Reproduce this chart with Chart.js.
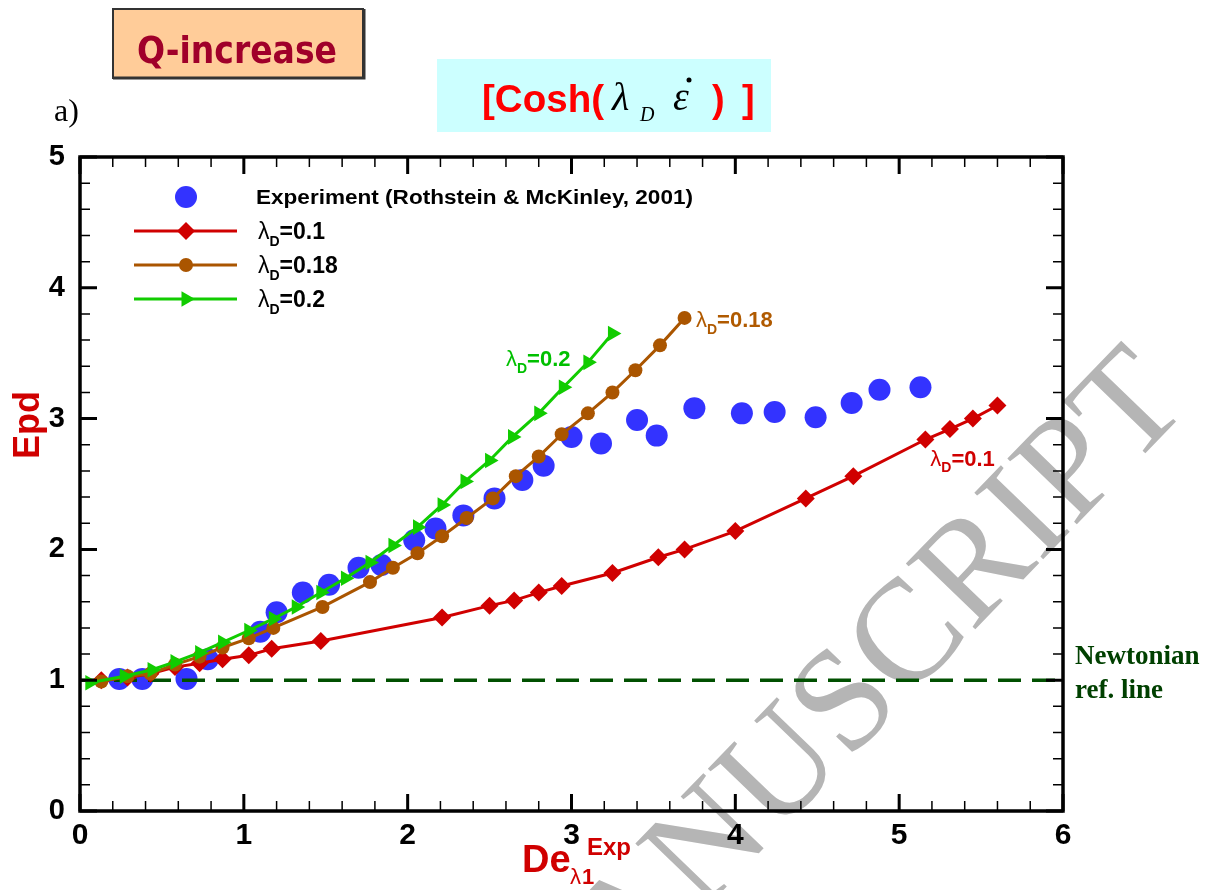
<!DOCTYPE html>
<html>
<head>
<meta charset="utf-8">
<script src="https://cdn.jsdelivr.net/npm/chart.js@4.4.0/dist/chart.umd.min.js"></script>
<style>
  html, body { margin: 0; padding: 0; background: #fff; }
  #wrap { width: 1225px; height: 890px; }
</style>
</head>
<body>
<div id="wrap"><canvas id="chart" width="1225" height="890"></canvas></div>
<script>
// experiment (Rothstein & McKinley, 2001)
const expX = [0.24, 0.38, 0.65, 0.78, 1.10, 1.20, 1.36, 1.52, 1.70, 1.84, 2.04, 2.17, 2.34, 2.53,
              2.70, 2.83, 3.00, 3.18, 3.40, 3.52, 3.75, 4.04, 4.24, 4.49, 4.71, 4.88, 5.13];
const expY = [1.01, 1.01, 1.01, 1.16, 1.37, 1.52, 1.67, 1.73, 1.86, 1.88, 2.07, 2.16, 2.26, 2.39,
              2.53, 2.64, 2.86, 2.81, 2.99, 2.87, 3.08, 3.04, 3.05, 3.01, 3.12, 3.22, 3.24];

// lambda_D = 0.1
const l01X = [0.13, 0.29, 0.43, 0.58, 0.73, 0.87, 1.03, 1.17, 1.47, 2.21, 2.50, 2.65, 2.80, 2.94,
              3.25, 3.53, 3.69, 4.00, 4.43, 4.72, 5.16, 5.31, 5.45, 5.60];
const l01Y = [1.00, 1.02, 1.05, 1.10, 1.13, 1.16, 1.19, 1.24, 1.30, 1.48, 1.57, 1.61, 1.67, 1.72,
              1.82, 1.94, 2.00, 2.14, 2.39, 2.56, 2.84, 2.92, 3.00, 3.10];

// lambda_D = 0.18
const l018X = [0.13, 0.29, 0.43, 0.58, 0.73, 0.87, 1.03, 1.18, 1.48, 1.77, 1.91, 2.06, 2.21, 2.36,
               2.52, 2.66, 2.80, 2.94, 3.10, 3.25, 3.39, 3.54, 3.69];
const l018Y = [0.99, 1.03, 1.05, 1.12, 1.18, 1.25, 1.32, 1.40, 1.56, 1.75, 1.86, 1.97, 2.10, 2.24,
               2.39, 2.56, 2.71, 2.88, 3.04, 3.20, 3.37, 3.56, 3.77];

// lambda_D = 0.2
const l02X = [0.06, 0.27, 0.44, 0.58, 0.73, 0.87, 1.03, 1.18, 1.32, 1.47, 1.62, 1.77, 1.91, 2.06,
              2.21, 2.35, 2.50, 2.64, 2.80, 2.95, 3.10, 3.25];
const l02Y = [0.98, 1.03, 1.08, 1.14, 1.21, 1.29, 1.38, 1.47, 1.56, 1.67, 1.78, 1.90, 2.03, 2.17,
              2.34, 2.52, 2.68, 2.86, 3.04, 3.24, 3.43, 3.65];

// Newtonian reference line
const newtonX = [0, 6];
const newtonY = [1, 1];

const xTicks = [0, 1, 2, 3, 4, 5, 6];
const yTicks = [0, 1, 2, 3, 4, 5];

// in-plot curve labels: [x, y, text, color]
const curveLabels = [
    [2.60, 3.40, '=0.2', '#00c000'],
    [3.76, 3.70, '=0.18', '#b05a00'],
    [5.19, 2.64, '=0.1', '#d00000']
];

const BLUE = '#3333ff', RED = '#d00000', BROWN = '#aa5500', GREEN = '#11cc00', DKGREEN = '#005000';
const sans = 'Arial, "Liberation Sans", sans-serif';
const serif = '"Times New Roman", "Liberation Serif", serif';

function pts(xs, ys) {
    return xs.map((x, i) => ({ x: x, y: ys[i] }));
}

function fitText(ctx, text, x, y, w) {
    const m = ctx.measureText(text).width;
    ctx.save();
    ctx.translate(x, y);
    ctx.scale(w / m, 1);
    ctx.fillText(text, 0, 0);
    ctx.restore();
}

function lambdaLabel(ctx, x, y, rest, color, size) {
    ctx.fillStyle = color;
    ctx.textAlign = 'left';
    ctx.textBaseline = 'alphabetic';
    ctx.font = size + 'px ' + sans;
    ctx.fillText('λ', x, y);
    let w = ctx.measureText('λ').width;
    ctx.font = 'bold ' + Math.round(size * 0.62) + 'px ' + sans;
    ctx.fillText('D', x + w, y + size * 0.3);
    w += ctx.measureText('D').width;
    ctx.font = 'bold ' + size + 'px ' + sans;
    ctx.fillText(rest, x + w, y);
}

function marker(ctx, style, x, y, r, color) {
    ctx.fillStyle = color;
    ctx.beginPath();
    if (style === 'circle') {
        ctx.arc(x, y, r, 0, Math.PI * 2);
    } else if (style === 'rectRot') {
        ctx.moveTo(x, y - r); ctx.lineTo(x + r, y); ctx.lineTo(x, y + r); ctx.lineTo(x - r, y);
    } else {
        ctx.moveTo(x + r, y); ctx.lineTo(x - r * 0.5, y - r * 0.87); ctx.lineTo(x - r * 0.5, y + r * 0.87);
    }
    ctx.closePath();
    ctx.fill();
}

const backgroundPlugin = {
    id: 'background',
    beforeDraw(chart) {
        const ctx = chart.ctx;
        ctx.save();
        ctx.fillStyle = '#fff';
        ctx.fillRect(0, 0, chart.width, chart.height);

        // watermark
        ctx.font = '146px ' + serif;
        ctx.fillStyle = '#b5b5b5';
        const ang = -46 * Math.PI / 180;
        ctx.translate(938, 668);
        ctx.rotate(ang);
        const pre = ctx.measureText('ACCEPTED MANUS').width + ctx.measureText('C').width / 2;
        ctx.textAlign = 'left';
        ctx.fillText('ACCEPTED MANUSCRIPT', -pre, 0);
        ctx.restore();

        // header boxes
        ctx.save();
        ctx.fillStyle = '#ffcc99';
        ctx.fillRect(113, 9, 250, 69);
        ctx.strokeStyle = '#333';
        ctx.lineWidth = 2;
        ctx.strokeRect(113, 9, 250, 69);
        ctx.lineWidth = 3;
        ctx.beginPath();
        ctx.moveTo(113, 78); ctx.lineTo(364, 78); ctx.lineTo(364, 9);
        ctx.stroke();
        ctx.fillStyle = '#a0002a';
        ctx.font = 'bold 38px "DejaVu Sans", ' + sans;
        fitText(ctx, 'Q-increase', 137, 63, 200);

        ctx.fillStyle = '#ccffff';
        ctx.fillRect(437, 59, 334, 73);
        ctx.fillStyle = '#ff0000';
        ctx.font = 'bold 38px ' + sans;
        fitText(ctx, '[Cosh(', 482, 112, 122);
        ctx.fillStyle = '#000';
        ctx.font = 'italic 40px ' + serif;
        ctx.fillText('λ', 612, 110);
        ctx.font = 'italic 20px ' + serif;
        ctx.fillText('D', 640, 121);
        ctx.font = 'italic 40px ' + serif;
        ctx.fillText('ε', 673, 110);
        ctx.beginPath();
        ctx.arc(689, 80, 2.5, 0, Math.PI * 2);
        ctx.fill();
        ctx.fillStyle = '#ff0000';
        ctx.font = 'bold 38px ' + sans;
        ctx.fillText(')', 712, 112);
        ctx.fillText(']', 742, 112);

        ctx.fillStyle = '#000';
        ctx.font = '32px ' + serif;
        ctx.fillText('a)', 54, 121);
        ctx.restore();
    }
};

const framePlugin = {
    id: 'frame',
    afterDatasetsDraw(chart) {
        const ctx = chart.ctx;
        const a = chart.chartArea;
        const xs = chart.scales.x, ys = chart.scales.y;
        ctx.save();
        ctx.strokeStyle = '#000';
        for (let i = 0; i <= 30; i++) {
            const major = i % 5 === 0;
            const len = major ? 17 : 10;
            const px = xs.getPixelForValue(i / 5);
            ctx.lineWidth = major ? 3 : 1.5;
            ctx.beginPath();
            ctx.moveTo(px, a.bottom); ctx.lineTo(px, a.bottom - len);
            ctx.moveTo(px, a.top); ctx.lineTo(px, a.top + len);
            ctx.stroke();
        }
        for (let i = 0; i <= 25; i++) {
            const major = i % 5 === 0;
            const len = major ? 17 : 10;
            const py = ys.getPixelForValue(i / 5);
            ctx.lineWidth = major ? 3 : 1.5;
            ctx.beginPath();
            ctx.moveTo(a.left, py); ctx.lineTo(a.left + len, py);
            ctx.moveTo(a.right, py); ctx.lineTo(a.right - len, py);
            ctx.stroke();
        }
        ctx.lineWidth = 3.5;
        ctx.strokeRect(a.left, a.top, a.right - a.left, a.bottom - a.top);

        // legend
        const rows = [
            { y: 197, color: BLUE, style: 'circle', r: 11, line: false },
            { y: 231, color: RED, style: 'rectRot', r: 9, line: true, text: '=0.1' },
            { y: 265, color: BROWN, style: 'circle', r: 7, line: true, text: '=0.18' },
            { y: 299, color: GREEN, style: 'triangle', r: 9, line: true, text: '=0.2' }
        ];
        rows.forEach(row => {
            if (row.line) {
                ctx.strokeStyle = row.color;
                ctx.lineWidth = 3;
                ctx.beginPath();
                ctx.moveTo(134, row.y); ctx.lineTo(237, row.y);
                ctx.stroke();
            }
            marker(ctx, row.style, 186, row.y, row.r, row.color);
            if (row.text) {
                lambdaLabel(ctx, 258, row.y + 8, row.text, '#000', 23);
            }
        });
        ctx.fillStyle = '#000';
        ctx.font = 'bold 20px ' + sans;
        ctx.textAlign = 'left';
        fitText(ctx, 'Experiment (Rothstein & McKinley, 2001)', 256, 204, 437);

        // curve labels
        curveLabels.forEach(l => {
            lambdaLabel(ctx, xs.getPixelForValue(l[0]), ys.getPixelForValue(l[1]), l[2], l[3], 22);
        });

        // Newtonian label
        ctx.fillStyle = '#004000';
        ctx.font = 'bold 27px ' + serif;
        ctx.fillText('Newtonian', 1075, 664);
        ctx.fillText('ref. line', 1075, 698);

        // axis titles
        ctx.fillStyle = RED;
        ctx.save();
        ctx.translate(39, 425);
        ctx.rotate(-Math.PI / 2);
        ctx.textAlign = 'center';
        ctx.font = 'bold 36px ' + sans;
        ctx.fillText('Epd', 0, 0);
        ctx.restore();

        ctx.textAlign = 'left';
        ctx.font = 'bold 38px ' + sans;
        ctx.fillText('De', 522, 872);
        ctx.font = '22px ' + sans;
        ctx.fillText('λ', 570, 884);
        ctx.font = 'bold 22px ' + sans;
        ctx.fillText('1', 582, 884);
        ctx.font = 'bold 24px ' + sans;
        ctx.fillText('Exp', 587, 855);
        ctx.restore();
    }
};

new Chart(document.getElementById('chart').getContext('2d'), {
    type: 'scatter',
    data: {
        datasets: [
            {
                label: 'Experiment (Rothstein & McKinley, 2001)',
                data: pts(expX, expY),
                showLine: false,
                pointStyle: 'circle',
                pointRadius: 11,
                pointBackgroundColor: BLUE,
                pointBorderWidth: 0,
                order: 5
            },
            {
                label: 'Newtonian ref. line',
                data: pts(newtonX, newtonY),
                showLine: true,
                borderColor: DKGREEN,
                borderWidth: 3.5,
                borderDash: [23, 11],
                pointRadius: 0,
                order: 4
            },
            {
                label: 'λD=0.1',
                data: pts(l01X, l01Y),
                showLine: true,
                borderColor: RED,
                borderWidth: 3,
                pointStyle: 'rectRot',
                pointRadius: 9,
                pointBackgroundColor: RED,
                pointBorderWidth: 0,
                order: 3
            },
            {
                label: 'λD=0.18',
                data: pts(l018X, l018Y),
                showLine: true,
                borderColor: BROWN,
                borderWidth: 3,
                pointStyle: 'circle',
                pointRadius: 7,
                pointBackgroundColor: BROWN,
                pointBorderWidth: 0,
                order: 2
            },
            {
                label: 'λD=0.2',
                data: pts(l02X, l02Y),
                showLine: true,
                borderColor: GREEN,
                borderWidth: 3,
                pointStyle: 'triangle',
                rotation: 90,
                pointRadius: 9,
                pointBackgroundColor: GREEN,
                pointBorderWidth: 0,
                order: 1
            }
        ]
    },
    options: {
        responsive: false,
        animation: false,
        devicePixelRatio: 1,
        layout: { padding: { top: 157, right: 162, left: 0, bottom: 0 } },
        plugins: { legend: { display: false }, tooltip: { enabled: false } },
        scales: {
            x: {
                type: 'linear',
                min: 0,
                max: 6,
                afterFit: s => { s.height = 79; },
                afterBuildTicks: s => { s.ticks = xTicks.map(v => ({ value: v })); },
                grid: { display: false, drawTicks: false },
                border: { display: false },
                ticks: { color: '#000', padding: 7, font: { family: sans, size: 30, weight: 'bold' } }
            },
            y: {
                type: 'linear',
                min: 0,
                max: 5,
                afterFit: s => { s.width = 80; },
                afterBuildTicks: s => { s.ticks = yTicks.map(v => ({ value: v })); },
                grid: { display: false, drawTicks: false },
                border: { display: false },
                ticks: { color: '#000', padding: 15, font: { family: sans, size: 29, weight: 'bold' } }
            }
        }
    },
    plugins: [backgroundPlugin, framePlugin]
});
</script>
</body>
</html>
